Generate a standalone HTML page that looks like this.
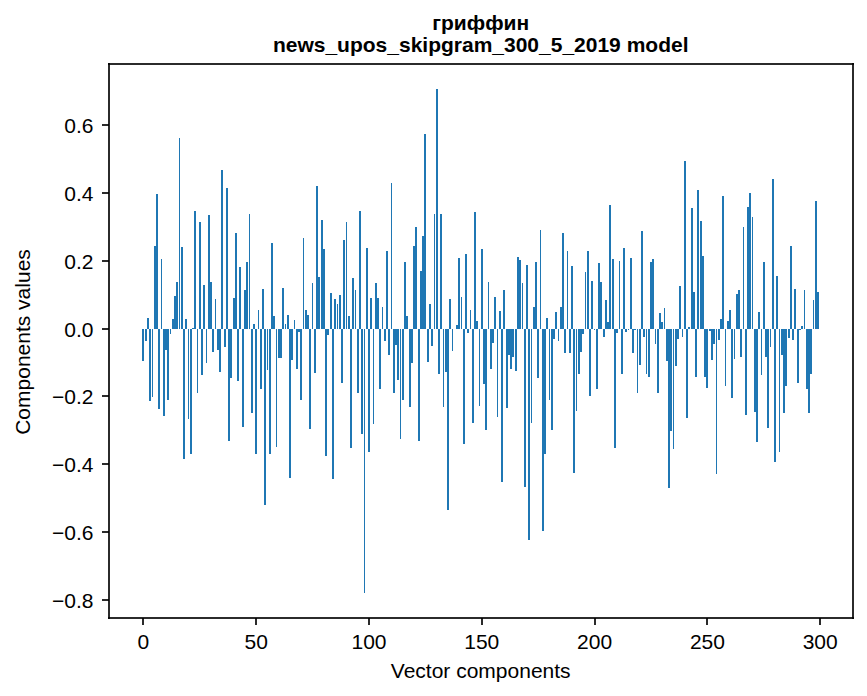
<!DOCTYPE html>
<html><head><meta charset="utf-8"><title>chart</title>
<style>
html,body{margin:0;padding:0;background:#fff;}
body{width:867px;height:696px;overflow:hidden;}
svg{display:block;}
text{font-family:"Liberation Sans",sans-serif;font-size:21px;fill:#000;}
.b{font-weight:bold;}
</style></head><body>
<svg role="img" aria-label="Bar chart of vector components" width="867" height="696" viewBox="0 0 867 696">
<rect x="0" y="0" width="867" height="696" fill="#ffffff"/>
<g fill="#1f77b4" shape-rendering="crispEdges">
<rect x="142" y="329" width="2" height="32"/><rect x="145" y="329" width="2" height="12"/><rect x="147" y="318" width="2" height="11"/><rect x="149" y="329" width="2" height="72"/><rect x="152" y="329" width="1" height="68"/><rect x="154" y="246" width="2" height="83"/>
<rect x="156" y="194" width="2" height="135"/><rect x="158" y="329" width="2" height="80"/><rect x="161" y="259" width="1" height="70"/><rect x="163" y="329" width="2" height="87"/><rect x="165" y="329" width="2" height="21"/><rect x="167" y="329" width="2" height="71"/>
<rect x="170" y="329" width="1" height="5"/><rect x="172" y="319" width="2" height="10"/><rect x="174" y="296" width="2" height="33"/><rect x="176" y="282" width="2" height="47"/><rect x="179" y="138" width="1" height="191"/><rect x="181" y="247" width="2" height="82"/>
<rect x="183" y="329" width="2" height="130"/><rect x="185" y="319" width="2" height="10"/><rect x="188" y="329" width="1" height="90"/><rect x="190" y="329" width="2" height="125"/><rect x="192" y="328" width="2" height="1"/><rect x="194" y="211" width="2" height="118"/>
<rect x="197" y="329" width="1" height="64"/><rect x="199" y="222" width="2" height="107"/><rect x="201" y="329" width="2" height="46"/><rect x="203" y="285" width="2" height="44"/><rect x="206" y="329" width="1" height="34"/><rect x="208" y="215" width="2" height="114"/>
<rect x="210" y="282" width="2" height="47"/><rect x="212" y="329" width="2" height="23"/><rect x="215" y="299" width="1" height="30"/><rect x="217" y="329" width="2" height="21"/><rect x="219" y="329" width="2" height="43"/><rect x="221" y="170" width="2" height="159"/>
<rect x="224" y="329" width="2" height="18"/><rect x="226" y="188" width="2" height="141"/><rect x="228" y="329" width="2" height="112"/><rect x="230" y="329" width="2" height="49"/><rect x="233" y="298" width="2" height="31"/><rect x="235" y="233" width="2" height="96"/>
<rect x="237" y="329" width="2" height="52"/><rect x="239" y="267" width="2" height="62"/><rect x="242" y="329" width="2" height="98"/><rect x="244" y="290" width="2" height="39"/><rect x="246" y="262" width="2" height="67"/><rect x="249" y="214" width="1" height="115"/>
<rect x="251" y="329" width="2" height="84"/><rect x="253" y="324" width="2" height="5"/><rect x="255" y="329" width="2" height="125"/><rect x="258" y="310" width="1" height="19"/><rect x="260" y="329" width="2" height="60"/><rect x="262" y="289" width="2" height="40"/>
<rect x="264" y="329" width="2" height="176"/><rect x="267" y="329" width="1" height="41"/><rect x="269" y="329" width="2" height="125"/><rect x="271" y="243" width="2" height="86"/><rect x="273" y="316" width="2" height="13"/><rect x="276" y="329" width="1" height="118"/>
<rect x="278" y="329" width="2" height="29"/><rect x="280" y="329" width="2" height="29"/><rect x="282" y="288" width="2" height="41"/><rect x="285" y="324" width="1" height="5"/><rect x="287" y="315" width="2" height="14"/><rect x="289" y="329" width="2" height="149"/>
<rect x="291" y="329" width="2" height="31"/><rect x="294" y="320" width="1" height="9"/><rect x="296" y="329" width="2" height="40"/><rect x="298" y="329" width="2" height="3"/><rect x="300" y="329" width="2" height="71"/><rect x="303" y="238" width="1" height="91"/>
<rect x="305" y="310" width="2" height="19"/><rect x="307" y="315" width="2" height="14"/><rect x="309" y="329" width="2" height="100"/><rect x="312" y="283" width="1" height="46"/><rect x="314" y="329" width="2" height="44"/><rect x="316" y="186" width="2" height="143"/>
<rect x="318" y="277" width="2" height="52"/><rect x="321" y="220" width="2" height="109"/><rect x="323" y="249" width="2" height="80"/><rect x="325" y="329" width="2" height="127"/><rect x="327" y="329" width="2" height="6"/><rect x="330" y="293" width="2" height="36"/>
<rect x="332" y="329" width="2" height="150"/><rect x="334" y="299" width="2" height="30"/><rect x="337" y="304" width="1" height="25"/><rect x="339" y="295" width="2" height="34"/><rect x="341" y="329" width="2" height="54"/><rect x="343" y="240" width="2" height="89"/>
<rect x="346" y="222" width="1" height="107"/><rect x="348" y="316" width="2" height="13"/><rect x="350" y="329" width="2" height="119"/><rect x="352" y="278" width="2" height="51"/><rect x="355" y="290" width="1" height="39"/><rect x="357" y="329" width="2" height="64"/>
<rect x="359" y="211" width="2" height="118"/><rect x="361" y="329" width="2" height="105"/><rect x="364" y="329" width="1" height="264"/><rect x="366" y="248" width="2" height="81"/><rect x="368" y="329" width="2" height="123"/><rect x="370" y="298" width="2" height="31"/>
<rect x="373" y="329" width="1" height="95"/><rect x="375" y="283" width="2" height="46"/><rect x="377" y="298" width="2" height="31"/><rect x="379" y="329" width="2" height="60"/><rect x="382" y="307" width="1" height="22"/><rect x="384" y="329" width="2" height="12"/>
<rect x="386" y="251" width="2" height="78"/><rect x="388" y="329" width="2" height="26"/><rect x="391" y="183" width="1" height="146"/><rect x="393" y="329" width="2" height="64"/><rect x="395" y="329" width="2" height="16"/><rect x="397" y="329" width="2" height="51"/>
<rect x="400" y="329" width="1" height="110"/><rect x="402" y="329" width="2" height="71"/><rect x="404" y="262" width="2" height="67"/><rect x="406" y="316" width="2" height="13"/><rect x="409" y="329" width="2" height="78"/><rect x="411" y="329" width="2" height="34"/>
<rect x="413" y="246" width="2" height="83"/><rect x="415" y="227" width="2" height="102"/><rect x="418" y="329" width="2" height="112"/><rect x="420" y="271" width="2" height="58"/><rect x="422" y="236" width="2" height="93"/><rect x="424" y="134" width="2" height="195"/>
<rect x="427" y="329" width="2" height="33"/><rect x="429" y="304" width="2" height="25"/><rect x="431" y="329" width="2" height="17"/><rect x="434" y="214" width="1" height="115"/><rect x="436" y="89" width="2" height="240"/><rect x="438" y="329" width="2" height="45"/>
<rect x="440" y="214" width="2" height="115"/><rect x="443" y="329" width="1" height="78"/><rect x="445" y="329" width="2" height="43"/><rect x="447" y="329" width="2" height="181"/><rect x="449" y="299" width="2" height="30"/><rect x="452" y="329" width="1" height="22"/>
<rect x="456" y="325" width="2" height="4"/><rect x="458" y="258" width="2" height="71"/><rect x="461" y="297" width="1" height="32"/><rect x="463" y="329" width="2" height="115"/><rect x="465" y="254" width="2" height="75"/>
<rect x="467" y="329" width="2" height="4"/><rect x="470" y="310" width="1" height="19"/><rect x="472" y="329" width="2" height="94"/><rect x="474" y="212" width="2" height="117"/><rect x="476" y="321" width="2" height="8"/><rect x="479" y="329" width="1" height="77"/>
<rect x="481" y="249" width="2" height="80"/><rect x="483" y="329" width="2" height="55"/><rect x="485" y="329" width="2" height="101"/><rect x="488" y="282" width="1" height="47"/><rect x="490" y="329" width="2" height="40"/><rect x="492" y="329" width="2" height="14"/>
<rect x="494" y="297" width="2" height="32"/><rect x="497" y="329" width="1" height="88"/><rect x="499" y="311" width="2" height="18"/><rect x="501" y="329" width="2" height="153"/><rect x="503" y="290" width="2" height="39"/><rect x="506" y="329" width="2" height="79"/>
<rect x="508" y="329" width="2" height="26"/><rect x="510" y="329" width="2" height="40"/><rect x="512" y="329" width="2" height="28"/><rect x="515" y="329" width="2" height="42"/><rect x="517" y="257" width="2" height="72"/><rect x="519" y="260" width="2" height="69"/>
<rect x="522" y="283" width="1" height="46"/><rect x="524" y="329" width="2" height="158"/><rect x="526" y="265" width="2" height="64"/><rect x="528" y="329" width="2" height="211"/><rect x="531" y="329" width="1" height="94"/><rect x="533" y="307" width="2" height="22"/>
<rect x="535" y="262" width="2" height="67"/><rect x="537" y="329" width="2" height="49"/><rect x="540" y="230" width="1" height="99"/><rect x="542" y="329" width="2" height="202"/><rect x="544" y="329" width="2" height="125"/><rect x="546" y="318" width="2" height="11"/>
<rect x="549" y="329" width="1" height="71"/><rect x="551" y="329" width="2" height="101"/><rect x="553" y="329" width="2" height="10"/><rect x="555" y="312" width="2" height="17"/><rect x="558" y="329" width="1" height="12"/><rect x="560" y="307" width="2" height="22"/>
<rect x="562" y="233" width="2" height="96"/><rect x="564" y="329" width="2" height="24"/><rect x="567" y="251" width="1" height="78"/><rect x="569" y="329" width="2" height="24"/><rect x="571" y="266" width="2" height="63"/><rect x="573" y="329" width="2" height="144"/>
<rect x="576" y="329" width="1" height="82"/><rect x="578" y="329" width="2" height="45"/><rect x="580" y="329" width="2" height="23"/><rect x="582" y="329" width="2" height="5"/><rect x="585" y="272" width="1" height="57"/><rect x="587" y="251" width="2" height="78"/>
<rect x="589" y="329" width="2" height="67"/><rect x="591" y="281" width="2" height="48"/><rect x="594" y="329" width="1" height="1"/><rect x="596" y="329" width="2" height="60"/><rect x="598" y="263" width="2" height="66"/><rect x="600" y="282" width="2" height="47"/>
<rect x="603" y="329" width="2" height="8"/><rect x="605" y="300" width="2" height="29"/><rect x="607" y="322" width="2" height="7"/><rect x="609" y="205" width="2" height="124"/><rect x="612" y="259" width="2" height="70"/><rect x="614" y="329" width="2" height="119"/>
<rect x="616" y="329" width="2" height="4"/><rect x="619" y="261" width="1" height="68"/><rect x="621" y="329" width="2" height="45"/><rect x="623" y="248" width="2" height="81"/><rect x="625" y="329" width="2" height="3"/><rect x="628" y="329" width="1" height="1"/>
<rect x="630" y="258" width="2" height="71"/><rect x="632" y="329" width="2" height="24"/><rect x="634" y="329" width="2" height="1"/><rect x="637" y="329" width="1" height="64"/><rect x="639" y="329" width="2" height="36"/><rect x="641" y="231" width="2" height="98"/>
<rect x="643" y="329" width="2" height="8"/><rect x="646" y="329" width="1" height="45"/><rect x="648" y="329" width="2" height="48"/><rect x="650" y="262" width="2" height="67"/><rect x="652" y="259" width="2" height="70"/><rect x="655" y="329" width="1" height="15"/>
<rect x="657" y="329" width="2" height="64"/><rect x="659" y="313" width="2" height="16"/><rect x="661" y="322" width="2" height="7"/><rect x="664" y="308" width="1" height="21"/><rect x="666" y="329" width="2" height="32"/><rect x="668" y="329" width="2" height="159"/>
<rect x="670" y="329" width="2" height="102"/><rect x="673" y="329" width="1" height="120"/><rect x="675" y="329" width="2" height="37"/><rect x="677" y="329" width="2" height="10"/><rect x="679" y="286" width="2" height="43"/><rect x="682" y="329" width="1" height="8"/>
<rect x="684" y="161" width="2" height="168"/><rect x="686" y="329" width="2" height="89"/><rect x="688" y="327" width="2" height="2"/><rect x="691" y="208" width="2" height="121"/><rect x="693" y="292" width="2" height="37"/><rect x="695" y="329" width="2" height="48"/>
<rect x="697" y="190" width="2" height="139"/><rect x="700" y="221" width="2" height="108"/><rect x="702" y="256" width="2" height="73"/><rect x="704" y="329" width="2" height="48"/><rect x="706" y="329" width="2" height="59"/><rect x="709" y="329" width="2" height="2"/>
<rect x="711" y="329" width="2" height="31"/><rect x="713" y="329" width="2" height="15"/><rect x="716" y="329" width="1" height="145"/><rect x="718" y="329" width="2" height="11"/><rect x="720" y="319" width="2" height="10"/><rect x="722" y="196" width="2" height="133"/>
<rect x="725" y="329" width="1" height="57"/><rect x="727" y="321" width="2" height="8"/><rect x="729" y="310" width="2" height="19"/><rect x="731" y="329" width="2" height="69"/><rect x="734" y="329" width="1" height="30"/><rect x="736" y="294" width="2" height="35"/>
<rect x="738" y="290" width="2" height="39"/><rect x="740" y="329" width="2" height="28"/><rect x="743" y="227" width="1" height="102"/><rect x="745" y="329" width="2" height="86"/><rect x="747" y="207" width="2" height="122"/><rect x="749" y="193" width="2" height="136"/>
<rect x="752" y="217" width="1" height="112"/><rect x="754" y="329" width="2" height="83"/><rect x="756" y="329" width="2" height="113"/><rect x="758" y="312" width="2" height="17"/><rect x="761" y="329" width="1" height="46"/><rect x="763" y="262" width="2" height="67"/>
<rect x="765" y="329" width="2" height="28"/><rect x="767" y="329" width="2" height="99"/><rect x="770" y="329" width="1" height="18"/><rect x="772" y="179" width="2" height="150"/><rect x="774" y="329" width="2" height="133"/><rect x="776" y="276" width="2" height="53"/>
<rect x="779" y="329" width="1" height="123"/><rect x="781" y="329" width="2" height="26"/><rect x="783" y="329" width="2" height="84"/><rect x="785" y="329" width="2" height="57"/><rect x="788" y="329" width="2" height="9"/><rect x="790" y="246" width="2" height="83"/>
<rect x="792" y="329" width="2" height="11"/><rect x="794" y="289" width="2" height="40"/><rect x="797" y="329" width="2" height="54"/><rect x="799" y="329" width="2" height="1"/><rect x="801" y="326" width="2" height="3"/><rect x="804" y="290" width="1" height="39"/>
<rect x="806" y="329" width="2" height="60"/><rect x="808" y="329" width="2" height="84"/><rect x="810" y="329" width="2" height="45"/><rect x="813" y="300" width="1" height="29"/><rect x="815" y="201" width="2" height="128"/><rect x="817" y="292" width="2" height="37"/>

</g>
<g fill="#000" fill-opacity="0.833" shape-rendering="crispEdges">
<rect x="108" y="63" width="746" height="2"/>
<rect x="108" y="617" width="746" height="2"/>
<rect x="108" y="63" width="2" height="556"/>
<rect x="852" y="63" width="2" height="556"/>
<rect x="142" y="618" width="2" height="6.8"/>
<rect x="255" y="618" width="2" height="6.8"/>
<rect x="368" y="618" width="2" height="6.8"/>
<rect x="481" y="618" width="2" height="6.8"/>
<rect x="594" y="618" width="2" height="6.8"/>
<rect x="706" y="618" width="2" height="6.8"/>
<rect x="819" y="618" width="2" height="6.8"/>
<rect x="102" y="124" width="7" height="2"/>
<rect x="102" y="192" width="7" height="2"/>
<rect x="102" y="260" width="7" height="2"/>
<rect x="102" y="328" width="7" height="2"/>
<rect x="102" y="395" width="7" height="2"/>
<rect x="102" y="463" width="7" height="2"/>
<rect x="102" y="531" width="7" height="2"/>
<rect x="102" y="599" width="7" height="2"/>
</g>
<g>
<text class="b" x="480.7" y="30" text-anchor="middle">гриффин</text>
<text class="b" x="480.7" y="52" text-anchor="middle">news_upos_skipgram_300_5_2019 model</text>
<text x="480.7" y="678" text-anchor="middle">Vector components</text>
<text transform="translate(30,342) rotate(-90)" text-anchor="middle">Components values</text>
<text x="143.4" y="649" text-anchor="middle">0</text>
<text x="256.2" y="649" text-anchor="middle">50</text>
<text x="369.0" y="649" text-anchor="middle">100</text>
<text x="481.8" y="649" text-anchor="middle">150</text>
<text x="594.6" y="649" text-anchor="middle">200</text>
<text x="707.4" y="649" text-anchor="middle">250</text>
<text x="820.2" y="649" text-anchor="middle">300</text>
<text x="93.5" y="133" text-anchor="end">0.6</text>
<text x="93.5" y="201" text-anchor="end">0.4</text>
<text x="93.5" y="269" text-anchor="end">0.2</text>
<text x="93.5" y="337" text-anchor="end">0.0</text>
<text x="93.5" y="404" text-anchor="end">−0.2</text>
<text x="93.5" y="472" text-anchor="end">−0.4</text>
<text x="93.5" y="540" text-anchor="end">−0.6</text>
<text x="93.5" y="608" text-anchor="end">−0.8</text>
</g>
</svg>
</body></html>
